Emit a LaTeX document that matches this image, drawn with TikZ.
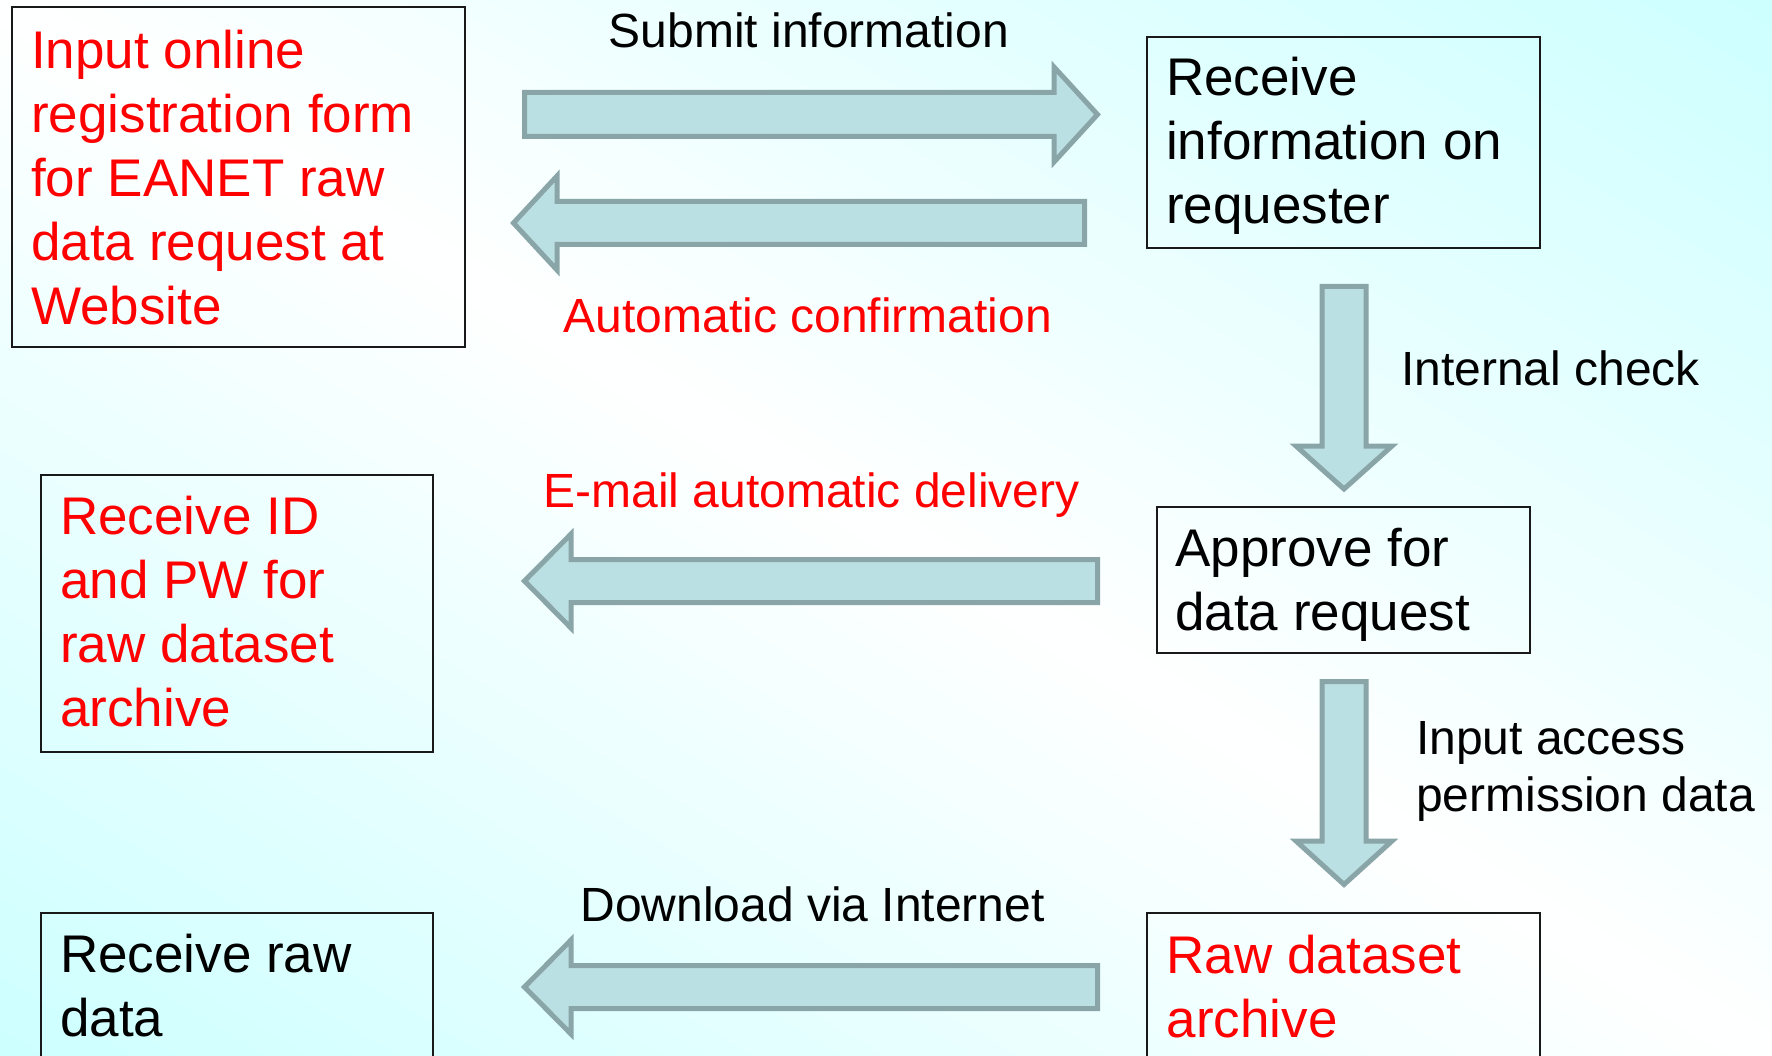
\documentclass[tikz,border=0pt]{standalone}
\usepackage{fontspec}
\setmainfont{Liberation Sans}
\definecolor{bgcyan}{RGB}{205,255,255}
\definecolor{arrfill}{RGB}{187,224,227}
\definecolor{arrline}{RGB}{138,165,168}
\definecolor{txtred}{RGB}{255,0,0}
\definecolor{boxline}{RGB}{25,25,25}
\begin{document}
\begin{tikzpicture}[x=1pt,y=-1pt,
  boxshape/.style={draw=boxline, line width=2.2pt, inner sep=0pt, outer sep=0pt, anchor=north west},
  blockarrow/.style={fill=arrfill, draw=arrline, line width=5pt, line join=miter},
  boxtext/.style={anchor=base west, inner sep=0pt, font=\fontsize{53}{64}\selectfont},
  labeltext/.style={anchor=base, inner sep=0pt, font=\fontsize{48}{57.7}\selectfont},
  sidetext/.style={anchor=base west, inner sep=0pt, font=\fontsize{48}{57.7}\selectfont},
]
\useasboundingbox (0,0) rectangle (1772,1056);
\begin{scope}
\clip (0,0) rectangle (1772,1056);
% diagonal background gradient: cyan corners (top right, bottom left), white along the other diagonal
\foreach \i in {0,...,79} {
  \pgfmathsetmacro{\ca}{-1+\i*0.025}
  \pgfmathsetmacro{\cb}{\ca+0.03}
  \pgfmathtruncatemacro{\mix}{round(abs(\ca+0.0125)*100)}
  \fill[bgcyan!\mix!white] (\ca*1772,0) -- (\cb*1772,0) -- (\cb*1772+1772,1056) -- (\ca*1772+1772,1056) -- cycle;
}

% boxes
\node[boxshape, minimum width=453pt, minimum height=340pt] (b1) at (12,7) {};
\node[boxshape, minimum width=393pt, minimum height=211pt] (b2) at (1147,37) {};
\node[boxshape, minimum width=373pt, minimum height=146pt] (b3) at (1157,507) {};
\node[boxshape, minimum width=393pt, minimum height=170pt] (b4) at (1147,913) {};
\node[boxshape, minimum width=392pt, minimum height=277pt] (b5) at (41,475) {};
\node[boxshape, minimum width=392pt, minimum height=170pt] (b6) at (41,913) {};

% box texts
\node[boxtext, text=txtred] (t1) at (31,68.3) {\parbox[t]{430pt}{\raggedright Input online\\registration form\\for EANET raw\\data request at\\Website}};
\node[boxtext] (t2) at (1166,96) {\parbox[t]{370pt}{\raggedright Receive\\information on\\requester}};
\node[boxtext] (t3) at (1175,566) {\parbox[t]{350pt}{\raggedright Approve for\\data request}};
\node[boxtext, text=txtred] (t4) at (1166.5,973) {\parbox[t]{370pt}{\raggedright Raw dataset\\archive}};
\node[boxtext, text=txtred] (t5) at (60,534) {\parbox[t]{370pt}{\raggedright Receive ID\\and PW for\\raw dataset\\archive}};
\node[boxtext] (t6) at (60,972.4) {\parbox[t]{370pt}{\raggedright Receive raw\\data}};

% block arrows
\draw[blockarrow] (524.5,92.5) -- (1054,92.5) -- (1054,67) -- (1097.5,114.5) -- (1054,162) -- (1054,136.5) -- (524.5,136.5) -- cycle;
\draw[blockarrow] (1084.5,201.5) -- (557,201.5) -- (557,176) -- (513.5,223) -- (557,270) -- (557,244.5) -- (1084.5,244.5) -- cycle;
\draw[blockarrow] (1097.5,559.5) -- (571,559.5) -- (571,534) -- (524.5,581) -- (571,628) -- (571,602.5) -- (1097.5,602.5) -- cycle;
\draw[blockarrow] (1097.5,965.5) -- (571,965.5) -- (571,940) -- (524.5,987) -- (571,1034) -- (571,1008.5) -- (1097.5,1008.5) -- cycle;
\draw[blockarrow] (1322,286.5) -- (1322,446) -- (1296,446) -- (1344,489) -- (1392,446) -- (1366,446) -- (1366,286.5) -- cycle;
\draw[blockarrow] (1322,681.5) -- (1322,841) -- (1296,841) -- (1344,884.5) -- (1392,841) -- (1366,841) -- (1366,681.5) -- cycle;

% labels
\node[labeltext] (l1) at (809,47.5) {Submit information};
\node[labeltext, text=txtred] (l2) at (808,333) {Automatic confirmation};
\node[labeltext, text=txtred] (l3) at (811.5,507.6) {E-mail automatic delivery};
\node[labeltext] (l4) at (812.5,921) {Download via Internet};
\node[sidetext] (l5) at (1401,385) {Internal check};
\node[sidetext] (l6) at (1416,754) {\parbox[t]{360pt}{\raggedright Input access\\permission data}};
\end{scope}
\end{tikzpicture}
\end{document}
